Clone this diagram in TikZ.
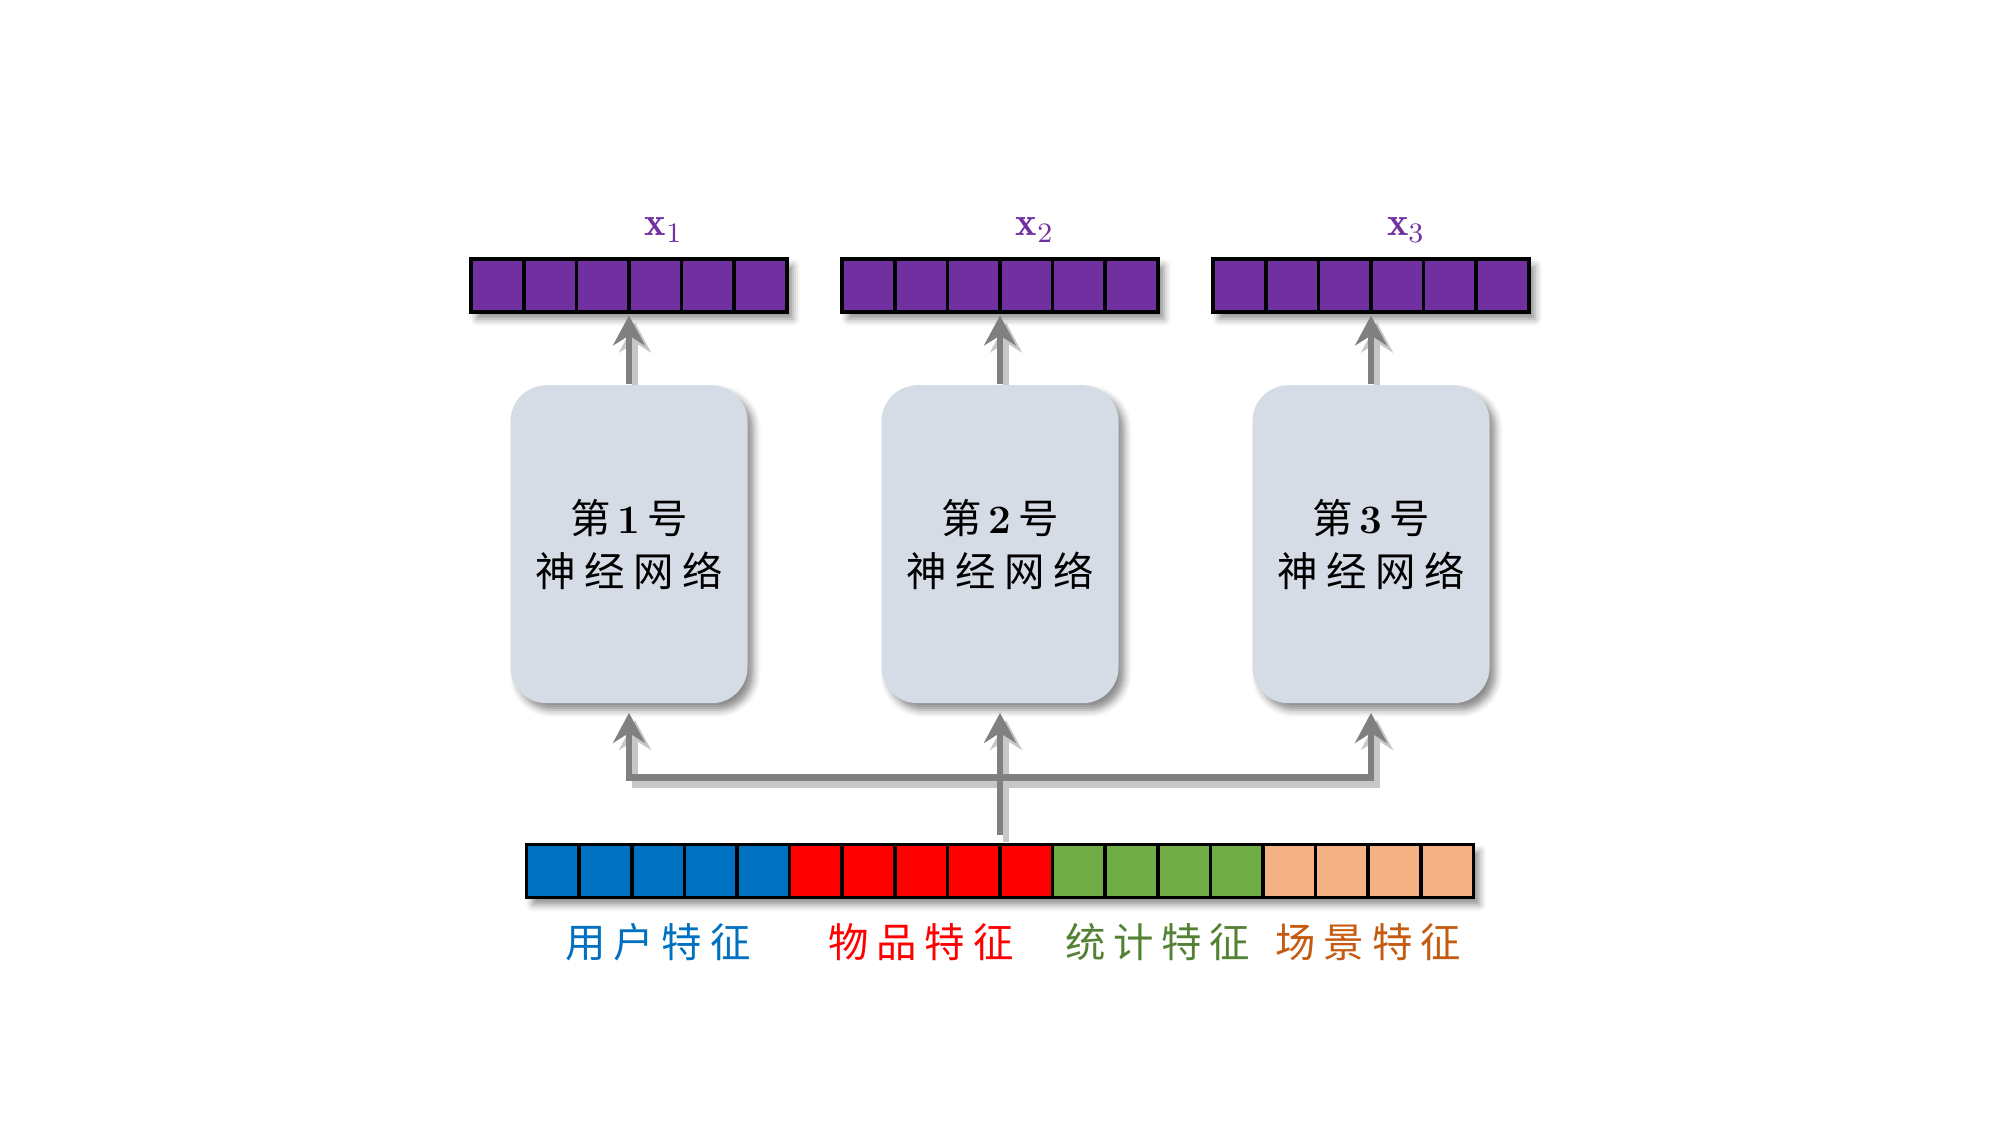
\documentclass[tikz,border=0pt]{standalone}
\usepackage{fontspec}
\newfontfamily\cjk{Noto Sans CJK SC}
\usetikzlibrary{positioning,arrows.meta,shadows.blur,calc,backgrounds}

\definecolor{vecpurple}{HTML}{7030A0}
\definecolor{netgray}{HTML}{D6DCE5}
\definecolor{flowgray}{HTML}{808080}
\definecolor{userblue}{HTML}{0070C0}
\definecolor{itemred}{HTML}{FF0000}
\definecolor{statgreen}{HTML}{70AD47}
\definecolor{scenepeach}{HTML}{F4B183}
\definecolor{statlabel}{HTML}{548235}
\definecolor{scenelabel}{HTML}{C55A11}

\newcommand{\cw}{0.526}
\newcommand{\gap}{\hspace{2.4pt}}
\newcommand{\fgap}{\hspace{2.2pt}}

% connectors, drawn twice (shadow + line)
\newcommand{\links}[1]{%
  \draw[flow,#1, shorten >=1pt] (net1.north) -- (out1.south);
  \draw[flow,#1, shorten >=1pt] (net2.north) -- (out2.south);
  \draw[flow,#1, shorten >=1pt] (net3.north) -- (out3.south);
  \draw[flow,#1, shorten >=0.09cm] (hub) -| (net1.south);
  \draw[flow,#1, shorten >=0.09cm] (hub) -| (net3.south);
  \draw[flow,#1, shorten >=0.09cm] (src) -- (net2.south);
}

\begin{document}
\begin{tikzpicture}[
    cellbar/.style={draw=black, line width=1pt, minimum height=0.53cm, inner sep=0pt, outer sep=0pt},
    softshadow/.style={blur shadow={shadow xshift=0.06cm, shadow yshift=-0.07cm, shadow blur radius=0.07cm, shadow opacity=45}},
    net/.style={fill=netgray, rounded corners=0.36cm, minimum width=2.37cm, minimum height=3.18cm,
      align=center, font=\cjk\fontsize{11.5}{15}\selectfont, softshadow},
    flow/.style={draw=flowgray, line width=1.9pt, -{Stealth[length=0.3cm, width=0.32cm, inset=0.1cm]}},
    shadowed/.style={draw=black!22, transform canvas={shift={(0.06cm,-0.07cm)}}},
    feat/.style={font=\cjk\fontsize{11.5}{13}\selectfont, inner sep=0pt},
    xlab/.style={text=vecpurple, font=\fontsize{11.5}{13}\selectfont, inner sep=0pt}
  ]
  \useasboundingbox (0,0) rectangle (20,11.25);

  % output vectors
  \node[cellbar, softshadow, fill=vecpurple, minimum width=3.156cm] (out2) at (10,8.395) {};
  \node[cellbar, softshadow, fill=vecpurple, minimum width=3.156cm, left=0.554cm of out2] (out1) {};
  \node[cellbar, softshadow, fill=vecpurple, minimum width=3.156cm, right=0.554cm of out2] (out3) {};

  \node[xlab, anchor=base] (x1) at ($(out1.north)+(0.35,0.23)$) {$\mathbf{x}_1$};
  \node[xlab, anchor=base] (x2) at ($(out2.north)+(0.35,0.23)$) {$\mathbf{x}_2$};
  \node[xlab, anchor=base] (x3) at ($(out3.north)+(0.35,0.23)$) {$\mathbf{x}_3$};

  % networks
  \node[net, below=0.725cm of out1] (net1) {第{\rmfamily\,\bfseries 1\,}号\\神\gap 经\gap 网\gap 络};
  \node[net, below=0.725cm of out2] (net2) {第{\rmfamily\,\bfseries 2\,}号\\神\gap 经\gap 网\gap 络};
  \node[net, below=0.725cm of out3] (net3) {第{\rmfamily\,\bfseries 3\,}号\\神\gap 经\gap 网\gap 络};

  % input features
  \node[cellbar, fill=userblue, minimum width=2.63cm] (user) at (6.581,2.54) {};
  \node[cellbar, fill=itemred, minimum width=2.63cm, right=0pt of user] (item) {};
  \node[cellbar, fill=statgreen, minimum width=2.104cm, right=0pt of item] (stat) {};
  \node[cellbar, fill=scenepeach, minimum width=2.104cm, right=0pt of stat] (scene) {};

  \foreach \seg/\n in {out1/5,out2/5,out3/5,user/4,item/4,stat/3,scene/3}
    \foreach \k in {1,...,\n}
      \draw[line width=1pt] ($(\seg.south west)+(\k*\cw,0)$) -- ($(\seg.north west)+(\k*\cw,0)$);

  \node[feat, text=userblue, below=0.25cm of user] (userlab) {用\fgap 户\fgap 特\fgap 征};
  \node[feat, text=itemred, below=0.25cm of item] (itemlab) {物\fgap 品\fgap 特\fgap 征};
  \node[feat, text=statlabel, below=0.25cm of stat] (statlab) {统\fgap 计\fgap 特\fgap 征};
  \node[feat, text=scenelabel, below=0.25cm of scene] (scenelab) {场\fgap 景\fgap 特\fgap 征};

  \coordinate (src) at ($(item.north -| net2)+(0,0.1)$);
  \coordinate (hub) at ($(src)+(0,0.57)$);

  \begin{scope}[on background layer]
    \path[fill=white, softshadow] (user.south west) rectangle (scene.north east);
    \links{shadowed}
  \end{scope}
  \links{}
\end{tikzpicture}
\end{document}
